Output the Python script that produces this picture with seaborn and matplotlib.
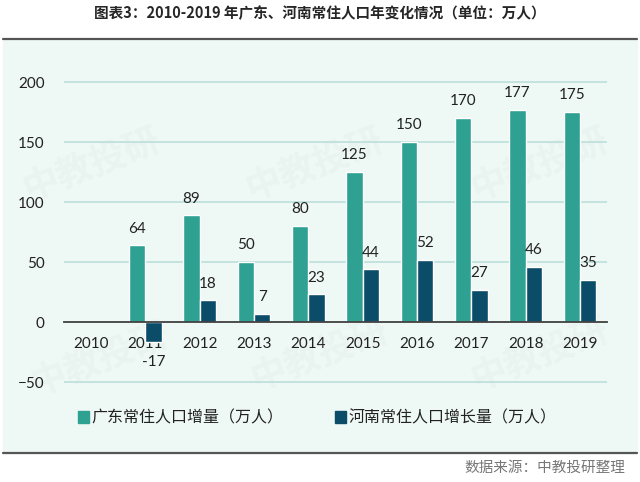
import pandas as pd
import numpy as np
import matplotlib.pyplot as plt
import seaborn as sns
from matplotlib.patches import Patch, Rectangle
from matplotlib.lines import Line2D

years = ["2010", "2011", "2012", "2013", "2014", "2015", "2016", "2017", "2018", "2019"]
guangdong = [np.nan, 64, 89, 50, 80, 125, 150, 170, 177, 175]
henan = [np.nan, -17, 18, 7, 23, 44, 52, 27, 46, 35]
series_names = ["广东常住人口增量（万人）", "河南常住人口增长量（万人）"]
colors = ["#2fa192", "#0b4d68"]

df = pd.concat([
    pd.DataFrame({"year": years, "value": guangdong, "series": series_names[0]}),
    pd.DataFrame({"year": years, "value": henan, "series": series_names[1]}),
], ignore_index=True)

sns.set_style("white")
plt.rcParams["font.family"] = ["Lato", "Noto Sans CJK SC", "DejaVu Sans"]
cjk = ["Noto Sans CJK SC", "DejaVu Sans"]

fig = plt.figure(figsize=(6.4, 4.82), dpi=100)
W, H = 640, 482

# panel background and rules
fig.patches.append(Rectangle((3 / W, 1 - 453 / H), 634 / W, 413 / H,
                             transform=fig.transFigure, color="#eef8f5", zorder=-5))
fig.add_artist(Line2D([3 / W, 637 / W], [1 - 39 / H] * 2, color="#555555", lw=1.6))
fig.add_artist(Line2D([3 / W, 637 / W], [1 - 453 / H] * 2, color="#555555", lw=1.6))

fig.text(0.5, 1 - 13 / H, "图表3：2010-2019 年广东、河南常住人口年变化情况（单位：万人）",
         ha="center", va="center", fontsize=10.5, fontweight="bold", family=cjk)
fig.text(625 / W, 1 - 468 / H, "数据来源：中教投研整理", ha="right", va="center",
         fontsize=10.5, color="#777777", family=cjk)

# watermarks
for (wx, wy) in [(92, 165), (315, 165), (540, 165), (100, 360), (320, 355), (540, 355)]:
    fig.text(wx / W, 1 - wy / H, "中教投研", ha="center", va="center", rotation=21,
             fontsize=26, fontweight="bold", color="#8a9a96", alpha=0.05, family=cjk,
             zorder=-4)

ylo, yhi = -55, 205
top_px = 322 - yhi * 1.2
bot_px = 322 - ylo * 1.2
ax = fig.add_axes([64 / W, 1 - bot_px / H, (607 - 64) / W, (bot_px - top_px) / H])
ax.set_facecolor("none")

sns.barplot(data=df, x="year", y="value", hue="series", hue_order=series_names,
            order=years, palette=colors, width=0.6, gap=0, ax=ax, legend=False,
            saturation=1)

ax.set_ylim(ylo, yhi)
ax.set_xlim(-0.5, len(years) - 0.5)
ax.set_yticks([-50, 0, 50, 100, 150, 200])
for v in [-50, 50, 100, 150, 200]:
    ax.axhline(v, color="#b9ddd8", lw=1.1, zorder=0)

for s in ["top", "right", "left"]:
    ax.spines[s].set_visible(False)
ax.spines["bottom"].set_position(("data", 0))
ax.spines["bottom"].set_color("#404040")
ax.spines["bottom"].set_linewidth(1.3)

ax.set_xticks(np.arange(-0.5, len(years), 1.0), minor=True)
ax.tick_params(axis="x", which="minor", length=5, width=1.2, color="#404040", direction="out")
ax.tick_params(axis="x", which="major", length=0, pad=11, labelsize=11, labelcolor="#222222")
ax.tick_params(axis="y", length=0, pad=14, labelsize=11, labelcolor="#222222")
ax.set_xlabel("")
ax.set_ylabel("")

# data labels
for container in ax.containers:
    for bar in container:
        v = bar.get_height()
        if np.isnan(v) or v == 0:
            continue
        x = bar.get_x() + bar.get_width() / 2
        off = 12 if v >= 0 else -14
        ax.annotate(f"{v:.0f}", (x, v), xytext=(0, off), textcoords="offset points",
                    ha="center", va="center", fontsize=11, color="#222222")

handles = [Patch(color=c, label=n) for c, n in zip(colors, series_names)]
fig.legend(handles=handles, loc="center", bbox_to_anchor=(317 / W, 1 - 418 / H), ncol=2,
           frameon=False, handlelength=0.7, handleheight=0.7, handletextpad=0.15,
           columnspacing=3.2, prop={"family": cjk, "size": 11.5}, labelcolor="#222222")

fig.savefig("out.png", dpi=100)
